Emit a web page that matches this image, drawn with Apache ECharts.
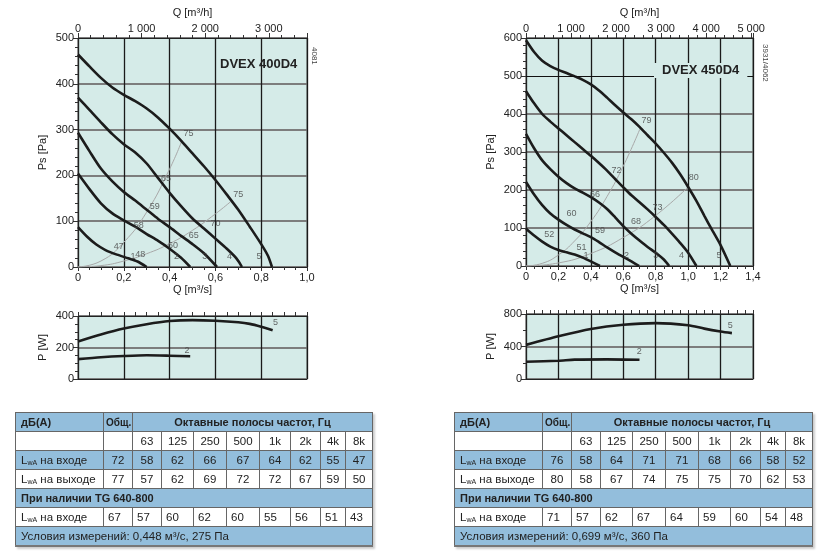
<!DOCTYPE html>
<html>
<head>
<meta charset="utf-8">
<script src="https://cdn.jsdelivr.net/npm/echarts@6/dist/echarts.min.js"></script>
<style>
  body { margin: 0; background: #fff; }
  #chart { position: absolute; left: 0; top: 0; width: 831px; height: 555px; }
  .tbl { position: absolute; top: 412px; border-collapse: collapse; table-layout: fixed;
         font-family: 'Liberation Sans', Arial, sans-serif; font-size: 11.5px; color: #222;
         border-left: 1px solid #666; border-bottom: 2px solid #777; box-shadow: 2px 2px 2px #ccc; }
  .tbl td { border: 1px solid #666; padding: 0 2px; height: 18px; text-align: center; white-space: nowrap; }
  .tbl tr.b td { background: #93bedc; }
  .tbl td.l { text-align: left; padding-left: 5px; }
  .tbl td.s { text-align: left; padding-left: 4px; }
  .tbl .h { font-weight: bold; font-size: 11px; }
  .tbl sub { font-size: 7px; vertical-align: -1px; }
</style>
</head>
<body>
<div id="chart"></div>
<script>
// ---- DVEX 400D4: static pressure Ps [Pa] vs Q [m3/s], speeds 1..5
const ps400 = [
  [[0, 87], [0.04, 66], [0.08, 49], [0.12, 37], [0.17, 27], [0.22, 19], [0.26, 12], [0.3, 0]],
  [[0, 204], [0.05, 170], [0.1, 139], [0.15, 117], [0.2, 102], [0.25, 88], [0.3, 72], [0.35, 57], [0.4, 40], [0.45, 20], [0.49, 0]],
  [[0, 293], [0.05, 253], [0.1, 215], [0.15, 187], [0.2, 164], [0.25, 145], [0.3, 125], [0.35, 105], [0.4, 87], [0.45, 68], [0.5, 50], [0.55, 30], [0.607, 0]],
  [[0, 370], [0.05, 343], [0.1, 316], [0.15, 290], [0.2, 268], [0.25, 250], [0.3, 226], [0.35, 194], [0.4, 162], [0.45, 133], [0.5, 106], [0.55, 84], [0.6, 62], [0.65, 40], [0.69, 20], [0.716, 0]],
  [[0, 464], [0.05, 438], [0.1, 413], [0.15, 392], [0.2, 376], [0.25, 362], [0.3, 346], [0.35, 326], [0.4, 302], [0.45, 276], [0.5, 248], [0.55, 220], [0.6, 190], [0.65, 158], [0.7, 125], [0.75, 88], [0.8, 50], [0.83, 24], [0.847, 0]]
];
const sys400 = [
  [[0, 0], [0.1, 13], [0.2, 54], [0.3, 120], [0.4, 214], [0.454, 276]],
  [[0, 0], [0.1, 3], [0.2, 13], [0.3, 29], [0.4, 51], [0.5, 80], [0.6, 116], [0.665, 142]]
];
const tags400 = [
  [0.483, 291, '75'], [0.384, 193, '65'], [0.335, 132, '59'], [0.265, 91, '58'], [0.178, 44, '47'],
  [0.70, 159, '75'], [0.6, 96, '70'], [0.505, 69, '65'], [0.415, 47, '60'], [0.272, 28, '48'],
  [0.24, 23, '1'], [0.43, 23, '2'], [0.553, 22, '3'], [0.662, 22, '4'], [0.79, 22, '5']
];
const pw400 = [
  [[0, 126], [0.1, 138], [0.2, 146], [0.3, 151], [0.4, 148], [0.49, 144]],
  [[0, 238], [0.1, 282], [0.2, 320], [0.3, 348], [0.4, 368], [0.5, 374], [0.6, 370], [0.7, 360], [0.75, 350], [0.8, 332], [0.85, 310]]
];
const pwTags400 = [[0.862, 358, '5'], [0.476, 181, '2']];

// ---- DVEX 450D4
const ps450 = [
  [[0, 98], [0.05, 80], [0.1, 64], [0.15, 51], [0.2, 42], [0.25, 36], [0.3, 30], [0.35, 22], [0.4, 12], [0.456, 0]],
  [[0, 221], [0.05, 188], [0.1, 160], [0.15, 138], [0.2, 122], [0.25, 108], [0.3, 96], [0.35, 86], [0.4, 76], [0.45, 63], [0.5, 49], [0.55, 36], [0.6, 24], [0.65, 12], [0.698, 0]],
  [[0, 348], [0.05, 310], [0.1, 278], [0.15, 255], [0.2, 235], [0.25, 218], [0.3, 204], [0.35, 193], [0.4, 181], [0.45, 167], [0.5, 150], [0.55, 128], [0.6, 105], [0.65, 85], [0.7, 67], [0.75, 50], [0.8, 35], [0.85, 17], [0.883, 0]],
  [[0, 460], [0.05, 428], [0.1, 400], [0.15, 380], [0.2, 362], [0.25, 344], [0.3, 326], [0.35, 308], [0.4, 290], [0.45, 271], [0.5, 251], [0.55, 229], [0.6, 207], [0.65, 186], [0.7, 168], [0.75, 149], [0.8, 129], [0.85, 108], [0.9, 85], [0.95, 61], [1.0, 35], [1.051, 0]],
  [[0, 594], [0.05, 563], [0.1, 540], [0.15, 526], [0.2, 516], [0.25, 508], [0.3, 499], [0.35, 490], [0.4, 478], [0.45, 462], [0.5, 443], [0.55, 423], [0.6, 404], [0.65, 386], [0.7, 366], [0.75, 344], [0.8, 322], [0.85, 298], [0.9, 272], [0.95, 242], [1.0, 208], [1.05, 172], [1.1, 132], [1.15, 93], [1.2, 55], [1.26, 0]]
];
const sys450 = [
  [[0, 0], [0.1, 7], [0.2, 29], [0.3, 66], [0.4, 117], [0.5, 183], [0.6, 263], [0.702, 360]],
  [[0, 0], [0.2, 8], [0.4, 33], [0.6, 75], [0.8, 133], [1.0, 208]]
];
const tags450 = [
  [0.743, 382, '79'], [0.558, 252, '72'], [0.425, 189, '66'], [0.281, 139, '60'], [0.144, 82, '52'],
  [1.035, 232, '80'], [0.811, 154, '73'], [0.678, 117, '68'], [0.456, 94, '59'], [0.343, 48, '51'],
  [0.37, 28, '1'], [0.62, 28, '2'], [0.8, 28, '3'], [0.959, 28, '4'], [1.19, 28, '5']
];
const pw450 = [
  [[0, 213], [0.2, 225], [0.3, 238], [0.5, 242], [0.7, 236]],
  [[0, 420], [0.2, 525], [0.4, 615], [0.6, 668], [0.8, 688], [1.0, 662], [1.1, 620], [1.2, 585], [1.27, 565]]
];
const pwTags450 = [[1.26, 664, '5'], [0.698, 336, '2']];

// ---- sound tables
const bands = ['63', '125', '250', '500', '1k', '2k', '4k', '8k'];
const inlet400 = [72, 58, 62, 66, 67, 64, 62, 55, 47];
const outlet400 = [77, 57, 62, 69, 72, 72, 67, 59, 50];
const tg400 = [67, 57, 60, 62, 60, 55, 56, 51, 43];
const inlet450 = [76, 58, 64, 71, 71, 68, 66, 58, 52];
const outlet450 = [80, 58, 67, 74, 75, 75, 70, 62, 53];
const tg450 = [71, 57, 62, 67, 64, 59, 60, 54, 48];

const FONT = 'Liberation Sans';
const TXT = '#222';
const PLOT_BG = '#d5ebe8';

function fmtQ (v) { return v === 0 ? '0' : v.toFixed(1).replace('.', ',') }
function fmtH (v) { return v === 0 ? '0' : (v / 1000) + ' 000' }

function bottomQ (grid, max, labels) {
  return {
    gridIndex: grid, type: 'value', position: 'bottom', min: 0, max: max, interval: 0.2,
    name: labels ? 'Q [m³/s]' : '', nameLocation: 'middle', nameGap: 17,
    nameTextStyle: { color: TXT, fontSize: 11 },
    axisLine: { show: true, lineStyle: { color: '#222', width: 1 } },
    axisTick: { show: labels, length: 4, lineStyle: { color: '#333' } },
    minorTick: { show: labels, splitNumber: 4, length: 3, lineStyle: { color: '#333' } },
    axisLabel: { show: labels, formatter: fmtQ, color: TXT, fontSize: 11, margin: 5 },
    splitLine: { show: true, lineStyle: { color: '#1a1a1a', width: 1.3 } }
  }
}
function topH (grid, max) {
  return {
    gridIndex: grid, type: 'value', position: 'top', min: 0, max: max, interval: 1000,
    name: 'Q [m³/h]', nameLocation: 'middle', nameGap: 20,
    nameTextStyle: { color: TXT, fontSize: 11 },
    axisLine: { show: true, lineStyle: { color: '#222' } },
    axisTick: { show: true, length: 5, lineStyle: { color: '#333' } },
    minorTick: { show: true, splitNumber: 5, length: 3, lineStyle: { color: '#333' } },
    axisLabel: { formatter: fmtH, color: TXT, fontSize: 11, margin: 4, showMaxLabel: false },
    splitLine: { show: false }
  }
}
function topTicks (grid, max) {
  return {
    gridIndex: grid, type: 'value', position: 'top', min: 0, max: max, interval: 0.2,
    axisLine: { show: true, lineStyle: { color: '#222' } },
    axisTick: { show: true, length: 4, lineStyle: { color: '#333' } },
    minorTick: { show: true, splitNumber: 4, length: 4, lineStyle: { color: '#333' } },
    axisLabel: { show: false }, splitLine: { show: false }
  }
}
function yAx (grid, max, interval, minorSplit, name, splitColors) {
  return {
    gridIndex: grid, type: 'value', min: 0, max: max, interval: interval,
    name: name, nameLocation: 'middle', nameGap: 30,
    nameTextStyle: { color: TXT, fontSize: 11 },
    axisLine: { show: true, lineStyle: { color: '#222' } },
    axisTick: { show: true, length: 5, lineStyle: { color: '#333' } },
    minorTick: { show: true, splitNumber: minorSplit, length: 3, lineStyle: { color: '#333' } },
    axisLabel: { color: TXT, fontSize: 11, margin: 4 },
    splitLine: { show: true, lineStyle: { color: splitColors || '#7d7d7d', width: 2 } }
  }
}
function curves (list, xi, yi) {
  return list.map(d => ({
    type: 'line', xAxisIndex: xi, yAxisIndex: yi, data: d, smooth: 0.25,
    showSymbol: false, silent: true, z: 4,
    lineStyle: { color: '#1c1c1c', width: 2.6 }
  }))
}
function sysCurves (list, xi, yi) {
  return list.map(d => ({
    type: 'line', xAxisIndex: xi, yAxisIndex: yi, data: d, smooth: true,
    showSymbol: false, silent: true, z: 3,
    lineStyle: { color: '#a8a8a8', width: 1 }
  }))
}
function tags (list, xi, yi) {
  return {
    type: 'scatter', xAxisIndex: xi, yAxisIndex: yi, data: list, symbolSize: 1, silent: true, z: 6,
    itemStyle: { color: 'rgba(0,0,0,0)' },
    label: { show: true, position: 'inside', formatter: p => p.value[2], fontSize: 9, color: '#444' }
  }
}

const chart = echarts.init(document.getElementById('chart'), null, { renderer: 'canvas' })
const gridBase = { show: true, backgroundColor: PLOT_BG, borderColor: '#555', borderWidth: 1 }

// y split line colours of the 450 chart: the 500 Pa line is drawn thin and black by a markLine
const split450 = ['#7d7d7d', '#7d7d7d', '#7d7d7d', '#7d7d7d', '#7d7d7d', 'rgba(0,0,0,0)', '#7d7d7d']

const series = [].concat(
  sysCurves(sys400, 0, 0), curves(ps400, 0, 0), [tags(tags400, 0, 0)],
  curves(pw400, 2, 1), [tags(pwTags400, 2, 1)],
  sysCurves(sys450, 4, 2), curves(ps450, 4, 2), [tags(tags450, 4, 2)],
  curves(pw450, 6, 3), [tags(pwTags450, 6, 3)]
)
series.push({
  type: 'line', xAxisIndex: 4, yAxisIndex: 2, data: [], silent: true,
  markLine: {
    silent: true, symbol: 'none', label: { show: false },
    lineStyle: { color: '#111', width: 1, type: 'solid' },
    data: [{ yAxis: 500 }]
  }
})

chart.setOption({
  animation: false,
  textStyle: { fontFamily: FONT },
  grid: [
    Object.assign({ left: 78, top: 38, width: 229, height: 229 }, gridBase),
    Object.assign({ left: 78, top: 316, width: 229, height: 63 }, gridBase),
    Object.assign({ left: 526, top: 38, width: 227, height: 228 }, gridBase),
    Object.assign({ left: 526, top: 314, width: 227, height: 65 }, gridBase)
  ],
  xAxis: [
    bottomQ(0, 1.0, true), topH(0, 3600),
    bottomQ(1, 1.0, false), topTicks(1, 1.0),
    bottomQ(2, 1.4, true), topH(2, 5040),
    bottomQ(3, 1.4, false), topTicks(3, 1.4)
  ],
  yAxis: [
    yAx(0, 500, 100, 5, 'Ps [Pa]'),
    yAx(1, 400, 200, 4, 'P [W]'),
    yAx(2, 600, 100, 5, 'Ps [Pa]', split450),
    yAx(3, 800, 400, 2, 'P [W]')
  ],
  graphic: [
    { type: 'text', left: 220, top: 58, z: 10,
      style: { text: 'DVEX 400D4', font: 'bold 13px Liberation Sans', fill: '#222' } },
    { type: 'text', left: 654, top: 63, z: 10,
      style: { text: 'DVEX 450D4', font: 'bold 13px Liberation Sans', fill: '#222',
               backgroundColor: PLOT_BG, padding: [1, 8] } },
    { type: 'text', x: 318, y: 47, rotation: -Math.PI / 2, z: 10,
      style: { text: '4081', font: '8px Liberation Sans', fill: '#444' } },
    { type: 'text', x: 769, y: 44, rotation: -Math.PI / 2, z: 10,
      style: { text: '3931/4062', font: '8px Liberation Sans', fill: '#444' } }
  ],
  series: series
})

// ---- tables
function row (cls, cells) { return '<tr class="' + cls + '">' + cells.join('') + '</tr>' }
function buildTable (left, widths, inlet, outlet, tg, cond) {
  const cols = widths.map(w => '<col style="width:' + w + 'px">').join('')
  const lwa = 'L<sub>wA</sub> '
  let html = '<table class="tbl" style="left:' + left + 'px;width:' + widths.reduce((a, b) => a + b, 0) + 'px">' + cols
  html += row('b', ['<td class="l h">дБ(A)</td>', '<td class="h" style="font-size:10px">Общ.</td>',
    '<td class="h" colspan="8">Октавные полосы частот, Гц</td>'])
  html += row('', ['<td></td>', '<td></td>'].concat(bands.map(b => '<td>' + b + '</td>')))
  html += row('b', ['<td class="l">' + lwa + 'на входе</td>'].concat(inlet.map(v => '<td>' + v + '</td>')))
  html += row('', ['<td class="l">' + lwa + 'на выходе</td>'].concat(outlet.map(v => '<td>' + v + '</td>')))
  html += row('b', ['<td class="l h" colspan="10">При наличии TG 640-800</td>'])
  html += row('', ['<td class="l">' + lwa + 'на входе</td>'].concat(tg.map(v => '<td class="s">' + v + '</td>')))
  html += row('b', ['<td class="l" colspan="10">' + cond + '</td>'])
  html += '</table>'
  document.body.insertAdjacentHTML('beforeend', html)
}
buildTable(15, [88, 29, 29, 32, 33, 33, 31, 30, 25, 27], inlet400, outlet400, tg400, 'Условия измерений: 0,448 м³/с, 275 Па')
buildTable(454, [88, 29, 29, 32, 33, 33, 32, 30, 25, 27], inlet450, outlet450, tg450, 'Условия измерений: 0,699 м³/с, 360 Па')
</script>
</body>
</html>
